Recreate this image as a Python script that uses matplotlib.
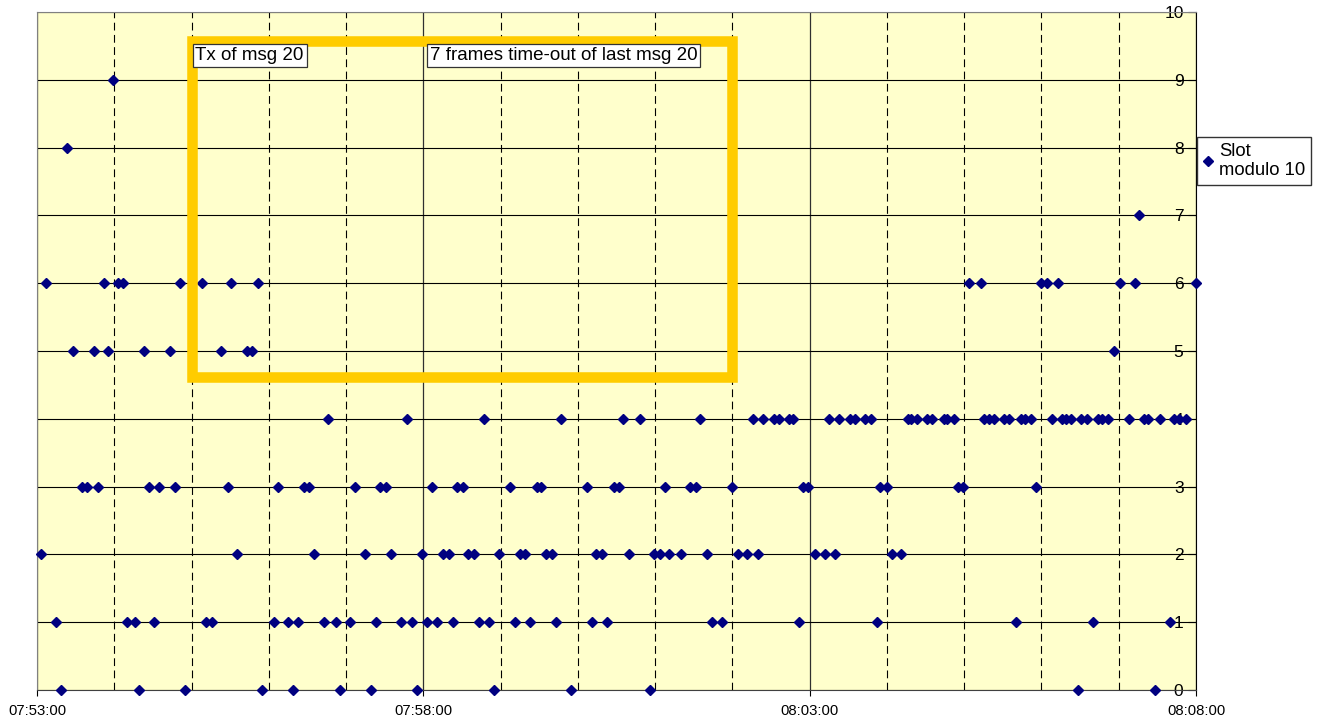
import pandas as pd
import matplotlib.pyplot as plt
import matplotlib.dates as mdates
from matplotlib.patches import Rectangle

plt.rcParams['font.family'] = ['Liberation Sans', 'DejaVu Sans']

# horas en las que aparece cada valor de slot (modulo 10)
slot_0 = ["07:53:19", "07:54:19", "07:54:55", "07:55:55", "07:56:19", "07:56:55",
          "07:57:19", "07:57:55", "07:58:55", "07:59:55", "08:00:56", "08:06:28",
          "08:07:28"]
slot_1 = ["07:53:15", "07:54:10", "07:54:16", "07:54:31", "07:55:11", "07:55:16",
          "07:56:04", "07:56:15", "07:56:23", "07:56:43", "07:56:52", "07:57:03",
          "07:57:23", "07:57:43", "07:57:51", "07:58:03", "07:58:11", "07:58:23",
          "07:58:43", "07:58:51", "07:59:11", "07:59:23", "07:59:43", "08:00:11",
          "08:00:23", "08:01:44", "08:01:52", "08:02:52", "08:03:52", "08:05:40",
          "08:06:40", "08:07:40"]
slot_2 = ["07:53:03", "07:55:35", "07:56:35", "07:57:15", "07:57:35", "07:57:59",
          "07:58:15", "07:58:20", "07:58:35", "07:58:39", "07:58:59", "07:59:15",
          "07:59:19", "07:59:35", "07:59:40", "08:00:14", "08:00:19", "08:00:40",
          "08:00:59", "08:01:04", "08:01:11", "08:01:20", "08:01:40", "08:02:04",
          "08:02:11", "08:02:20", "08:03:04", "08:03:12", "08:03:20", "08:04:04",
          "08:04:11"]
slot_3 = ["07:53:35", "07:53:39", "07:53:47", "07:54:27", "07:54:35", "07:54:47",
          "07:55:28", "07:56:07", "07:56:27", "07:56:31", "07:57:07", "07:57:26",
          "07:57:31", "07:58:07", "07:58:26", "07:58:31", "07:59:07", "07:59:28",
          "07:59:31", "08:00:07", "08:00:28", "08:00:32", "08:01:08", "08:01:27",
          "08:01:32", "08:02:00", "08:02:55", "08:02:59", "08:03:55", "08:04:00",
          "08:04:55", "08:04:59", "08:05:56"]
slot_4 = ["07:56:46", "07:57:47", "07:58:47", "07:59:47", "08:00:35", "08:00:48",
          "08:01:35", "08:02:16", "08:02:24", "08:02:32", "08:02:36", "08:02:44",
          "08:02:47", "08:03:15", "08:03:23", "08:03:31", "08:03:35", "08:03:43",
          "08:03:48", "08:04:16", "08:04:19", "08:04:23", "08:04:31", "08:04:35",
          "08:04:44", "08:04:47", "08:04:52", "08:05:15", "08:05:19", "08:05:23",
          "08:05:31", "08:05:35", "08:05:44", "08:05:47", "08:05:52", "08:06:08",
          "08:06:16", "08:06:19", "08:06:23", "08:06:31", "08:06:35", "08:06:44",
          "08:06:47", "08:06:52", "08:07:08", "08:07:20", "08:07:23", "08:07:32",
          "08:07:43", "08:07:47", "08:07:52"]
slot_5 = ["07:53:28", "07:53:44", "07:53:55", "07:54:23", "07:54:43", "07:55:23",
          "07:55:43", "07:55:47", "08:06:56"]
slot_6 = ["07:53:07", "07:53:52", "07:54:03", "07:54:07", "07:54:51", "07:55:08",
          "07:55:31", "07:55:52", "08:05:04", "08:05:13", "08:06:00", "08:06:04",
          "08:06:13", "08:07:01", "08:07:13", "08:08:00"]
slot_7 = ["08:07:16"]
slot_8 = ["07:53:23"]
slot_9 = ["07:53:59"]

todos = [slot_0, slot_1, slot_2, slot_3, slot_4, slot_5, slot_6, slot_7, slot_8, slot_9]
horas = []
slots = []
for n, lista in enumerate(todos):
    horas += lista
    slots += [n] * len(lista)

df = pd.DataFrame({"hora": horas, "slot": slots})
df["t"] = pd.to_datetime("2000-01-01 " + df["hora"])


def t(h):
    return mdates.date2num(pd.Timestamp("2000-01-01 " + h))


fig = plt.figure(figsize=(13.18, 7.22), dpi=100)
ax = fig.add_axes([37 / 1318, 1 - 690 / 722, (1196 - 37) / 1318, (690 - 12) / 722])
ax.set_facecolor("#FFFFCC")

ax.plot(df["t"], df["slot"], ls="none", marker="D", ms=5.3, color="#000080",
        clip_on=False, zorder=4, label="Slot\nmodulo 10")

ax.set_xlim(t("07:53:00"), t("08:08:00"))
ax.set_ylim(0, 10)
# marcas principales cada 5 minutos empezando en 07:53
ax.xaxis.set_major_locator(mdates.MinuteLocator(byminute=range(3, 60, 5)))
ax.xaxis.set_minor_locator(mdates.MinuteLocator())
ax.xaxis.set_major_formatter(mdates.DateFormatter("%H:%M:%S"))
ax.set_yticks(range(0, 11))

ax.grid(axis="y", color="black", lw=0.8)
ax.grid(axis="x", which="major", color="#303030", lw=0.9)
ax.grid(axis="x", which="minor", color="black", lw=0.8, linestyle=(0, (7, 4)))
ax.set_axisbelow(True)

ax.tick_params(axis="x", which="major", direction="out", length=4, labelsize=10.7, pad=6)
ax.tick_params(axis="x", which="minor", length=0)
ax.yaxis.tick_right()
ax.tick_params(axis="y", direction="in", length=6, labelsize=12.5, pad=-9)
for lbl in ax.get_yticklabels():
    lbl.set_horizontalalignment("right")

ax.spines["left"].set_color("#808080")
ax.spines["top"].set_color("#808080")
ax.spines["bottom"].set_color("#404040")
ax.spines["right"].set_color("black")

# recuadro amarillo y notas
x0, x1 = t("07:55:00"), t("08:02:00")
ax.add_patch(Rectangle((x0, 4.61), x1 - x0, 9.57 - 4.61, fill=False, ec="#FFCC00",
                       lw=7.6, joinstyle="miter", zorder=5))
caja = dict(boxstyle="square,pad=0.15", fc="white", ec="#333333", lw=0.9)
ax.text(t("07:55:03"), 9.36, "Tx of msg 20", fontsize=13.5, va="center", ha="left",
        bbox=caja, zorder=6)
ax.text(t("07:58:05"), 9.36, "7 frames time-out of last msg 20", fontsize=13.5,
        va="center", ha="left", bbox=caja, zorder=6)

ax.legend(loc="upper left", bbox_to_anchor=(1197 / 1318, 1 - 137 / 722),
          bbox_transform=fig.transFigure, borderaxespad=0, fontsize=13.3,
          frameon=True, fancybox=False, edgecolor="#333333", framealpha=1,
          handlelength=0.6, handletextpad=0.3, borderpad=0.3, markerscale=1.0)

plt.savefig("out.png", dpi=100)
